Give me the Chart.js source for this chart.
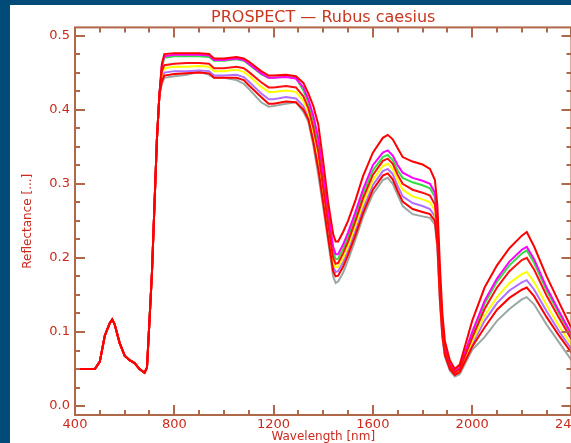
<!DOCTYPE html>
<html>
<head>
<meta charset="utf-8">
<script src="https://cdn.jsdelivr.net/npm/chart.js@4.4.0/dist/chart.umd.min.js"></script>
<style>
html, body { margin: 0; padding: 0; background: #004b78; overflow: hidden; width: 571px; height: 443px; }
#wrap { position: absolute; left: 10px; top: 5px; width: 580px; height: 445px; background: #ffffff; }
</style>
</head>
<body>
<div id="wrap"><canvas id="prospect_graph" width="580" height="445"></canvas></div>
<script>
// Visible part, the same for every leaf spectrum
var visWl = [400, 480, 500, 520, 540, 550, 560, 580, 600, 620, 640, 660, 680, 690, 700, 710, 720, 730, 740];
var visRefl = [0.05, 0.05, 0.06, 0.095, 0.112, 0.117, 0.11, 0.085, 0.068, 0.062, 0.058, 0.05, 0.045, 0.052, 0.115, 0.18, 0.27, 0.36, 0.42];

// NIR / SWIR part, one array per simulated spectrum
var nirWl = [750, 760, 800, 850, 900, 940, 960, 1000, 1050, 1080,
             1100, 1150, 1180, 1200, 1250, 1290, 1320, 1340, 1360, 1380,
             1400, 1420, 1440, 1450, 1460, 1480, 1500, 1530, 1560, 1600,
             1640, 1660, 1680, 1700, 1720, 1760, 1800, 1830, 1850, 1860,
             1870, 1880, 1890, 1910, 1930, 1950, 2000, 2050, 2100, 2150,
             2200, 2220, 2250, 2300, 2350, 2400];

var spectrumA = [0.462, 0.475, 0.476, 0.476, 0.476, 0.475, 0.469, 0.469, 0.471, 0.469,
                 0.465, 0.452, 0.446, 0.446, 0.447, 0.445, 0.436, 0.422, 0.405, 0.38,
                 0.33, 0.275, 0.232, 0.222, 0.222, 0.235, 0.25, 0.278, 0.31, 0.342,
                 0.362, 0.366, 0.36, 0.348, 0.336, 0.33, 0.326, 0.32, 0.305, 0.27,
                 0.19, 0.125, 0.088, 0.062, 0.05, 0.056, 0.115, 0.16, 0.19, 0.213,
                 0.23, 0.235, 0.215, 0.175, 0.14, 0.105];
var spectrumB = [0.46, 0.472, 0.474, 0.474, 0.474, 0.473, 0.467, 0.467, 0.469, 0.467,
                 0.462, 0.449, 0.443, 0.443, 0.444, 0.442, 0.43, 0.414, 0.392, 0.362,
                 0.312, 0.262, 0.215, 0.205, 0.205, 0.218, 0.234, 0.262, 0.292, 0.325,
                 0.342, 0.345, 0.338, 0.325, 0.315, 0.308, 0.304, 0.3, 0.288, 0.25,
                 0.17, 0.11, 0.08, 0.057, 0.047, 0.052, 0.1, 0.142, 0.172, 0.195,
                 0.211, 0.215, 0.198, 0.16, 0.128, 0.097];
var spectrumC = [0.458, 0.47, 0.472, 0.472, 0.472, 0.471, 0.466, 0.466, 0.468, 0.466,
                 0.461, 0.448, 0.443, 0.443, 0.445, 0.443, 0.426, 0.41, 0.386, 0.354,
                 0.304, 0.254, 0.208, 0.198, 0.199, 0.212, 0.228, 0.256, 0.286, 0.318,
                 0.336, 0.339, 0.332, 0.318, 0.308, 0.302, 0.298, 0.294, 0.282, 0.245,
                 0.165, 0.107, 0.077, 0.055, 0.046, 0.051, 0.097, 0.138, 0.168, 0.19,
                 0.206, 0.21, 0.193, 0.156, 0.125, 0.095];
var spectrumD = [0.452, 0.46, 0.462, 0.463, 0.463, 0.462, 0.456, 0.456, 0.458, 0.456,
                 0.451, 0.437, 0.43, 0.43, 0.432, 0.43, 0.418, 0.402, 0.376, 0.343,
                 0.294, 0.245, 0.2, 0.192, 0.193, 0.206, 0.222, 0.25, 0.28, 0.312,
                 0.331, 0.334, 0.327, 0.312, 0.3, 0.292, 0.288, 0.284, 0.272, 0.235,
                 0.158, 0.103, 0.075, 0.054, 0.045, 0.05, 0.092, 0.131, 0.16, 0.182,
                 0.197, 0.2, 0.184, 0.149, 0.119, 0.09];
var spectrumE = [0.448, 0.456, 0.458, 0.458, 0.459, 0.458, 0.452, 0.452, 0.454, 0.451,
                 0.446, 0.431, 0.424, 0.424, 0.426, 0.424, 0.412, 0.396, 0.369, 0.336,
                 0.287, 0.238, 0.194, 0.187, 0.188, 0.2, 0.216, 0.244, 0.273, 0.305,
                 0.324, 0.327, 0.32, 0.305, 0.292, 0.283, 0.279, 0.275, 0.264, 0.228,
                 0.152, 0.1, 0.073, 0.053, 0.044, 0.049, 0.087, 0.122, 0.147, 0.166,
                 0.178, 0.181, 0.167, 0.136, 0.108, 0.082];
var spectrumF = [0.442, 0.45, 0.452, 0.452, 0.453, 0.452, 0.446, 0.446, 0.447, 0.444,
                 0.438, 0.422, 0.414, 0.414, 0.417, 0.415, 0.405, 0.39, 0.362, 0.327,
                 0.279, 0.231, 0.188, 0.181, 0.182, 0.194, 0.21, 0.237, 0.266, 0.298,
                 0.317, 0.32, 0.313, 0.297, 0.283, 0.274, 0.27, 0.266, 0.256, 0.222,
                 0.148, 0.097, 0.071, 0.052, 0.043, 0.047, 0.083, 0.115, 0.139, 0.156,
                 0.167, 0.17, 0.157, 0.128, 0.101, 0.077];
var spectrumG = [0.438, 0.446, 0.448, 0.449, 0.45, 0.449, 0.443, 0.443, 0.443, 0.44,
                 0.433, 0.417, 0.408, 0.408, 0.411, 0.41, 0.4, 0.387, 0.357, 0.32,
                 0.274, 0.227, 0.182, 0.175, 0.176, 0.188, 0.204, 0.231, 0.26, 0.292,
                 0.311, 0.314, 0.306, 0.29, 0.276, 0.266, 0.262, 0.259, 0.25, 0.217,
                 0.145, 0.095, 0.069, 0.05, 0.042, 0.046, 0.08, 0.106, 0.13, 0.146,
                 0.157, 0.16, 0.148, 0.12, 0.095, 0.072];
var spectrumH = [0.435, 0.443, 0.445, 0.447, 0.451, 0.447, 0.443, 0.443, 0.44, 0.435,
                 0.428, 0.41, 0.404, 0.405, 0.408, 0.41, 0.397, 0.384, 0.352, 0.312,
                 0.268, 0.222, 0.175, 0.166, 0.168, 0.18, 0.197, 0.225, 0.255, 0.286,
                 0.305, 0.308, 0.3, 0.285, 0.27, 0.259, 0.256, 0.254, 0.245, 0.212,
                 0.14, 0.092, 0.067, 0.048, 0.04, 0.043, 0.076, 0.093, 0.115, 0.131,
                 0.144, 0.147, 0.137, 0.11, 0.086, 0.062];

var xTicks = [400, 800, 1200, 1600, 2000, 2400];
var yTicks = [0.0, 0.1, 0.2, 0.3, 0.4, 0.5];

var frameColor = '#b0684a'; // axis lines + tick marks
var labelColor = '#cc2a1e'; // tick labels and titles

// spectra drawn in this order, first one ends up on top
var spectra = [
    { values: spectrumA, color: '#ff0000' },
    { values: spectrumD, color: '#ff1010' },
    { values: spectrumG, color: '#ff0000' },
    { values: spectrumB, color: '#ff00ff' },
    { values: spectrumE, color: '#ffff00' },
    { values: spectrumC, color: '#33dd44' },
    { values: spectrumF, color: '#b070ff' },
    { values: spectrumH, color: '#9aa8a4' }
];

function toPoints(values) {
    var wl = visWl.concat(nirWl);
    var refl = visRefl.concat(values);
    return wl.map(function (w, i) { return { x: w, y: refl[i] }; });
}

// IDL style frame: box around the plot with ticks pointing inwards
var axisFrame = {
    id: 'axisFrame',
    afterDatasetsDraw: function (chart) {
        var ctx = chart.ctx;
        var a = chart.chartArea;
        var xs = chart.scales.x, ys = chart.scales.y;
        ctx.save();
        ctx.strokeStyle = frameColor;
        ctx.lineWidth = 2;
        ctx.strokeRect(a.left, a.top, a.right - a.left, a.bottom - a.top);
        ctx.beginPath();
        for (var w = xTicks[0]; w <= xTicks[xTicks.length - 1]; w += 100) {
            var px = Math.round(xs.getPixelForValue(w));
            var len = (w % 400 === 0) ? 10 : 5;
            ctx.moveTo(px, a.bottom); ctx.lineTo(px, a.bottom - len);
            ctx.moveTo(px, a.top); ctx.lineTo(px, a.top + len);
        }
        for (var i = 0; i <= 20; i++) {
            var py = Math.round(ys.getPixelForValue(i * 0.025));
            var ylen = (i % 4 === 0) ? 10 : 5;
            ctx.moveTo(a.left, py); ctx.lineTo(a.left + ylen, py);
            ctx.moveTo(a.right, py); ctx.lineTo(a.right - ylen, py);
        }
        ctx.stroke();
        ctx.restore();
    }
};

var canvas = document.getElementById('prospect_graph').getContext('2d');
var prospect_graph = new Chart(canvas, {
    type: 'line',
    data: {
        datasets: spectra.map(function (s) {
            return {
                data: toPoints(s.values),
                borderColor: s.color,
                borderWidth: 2,
                pointRadius: 0,
                tension: 0,
                fill: false
            };
        })
    },
    options: {
        responsive: false,
        animation: false,
        layout: { padding: { left: 0, right: 16, top: 0, bottom: 0 } },
        plugins: {
            legend: { display: false },
            tooltip: { enabled: false },
            title: {
                display: true,
                text: 'PROSPECT \u2014 Rubus caesius',
                fullSize: false,
                color: '#c8361f',
                font: { family: 'DejaVu Sans', size: 16, weight: 'normal', lineHeight: 1.15 },
                padding: { top: 4, bottom: 0 }
            }
        },
        scales: {
            x: {
                type: 'linear',
                min: 400,
                max: 2400,
                grid: { display: false, drawTicks: false },
                border: { display: false },
                afterBuildTicks: function (scale) {
                    scale.ticks = xTicks.map(function (v) { return { value: v }; });
                },
                afterFit: function (scale) { scale.height = 35; },
                ticks: {
                    color: labelColor,
                    font: { family: 'DejaVu Sans', size: 13 },
                    padding: 2,
                    maxRotation: 0,
                    autoSkip: false,
                    callback: function (v) { return String(v); }
                },
                title: {
                    display: true,
                    text: 'Wavelength [nm]',
                    color: labelColor,
                    font: { family: 'DejaVu Sans', size: 12 },
                    padding: { top: 0, bottom: 6 }
                }
            },
            y: {
                min: -0.012,
                max: 0.511,
                grid: { display: false, drawTicks: false },
                border: { display: false },
                afterBuildTicks: function (scale) {
                    scale.ticks = yTicks.map(function (v) { return { value: v }; });
                },
                afterFit: function (scale) { scale.width = 65; },
                ticks: {
                    color: labelColor,
                    font: { family: 'DejaVu Sans', size: 13 },
                    padding: 5,
                    callback: function (v) { return v.toFixed(1); }
                },
                title: {
                    display: true,
                    text: 'Reflectance [...]',
                    color: labelColor,
                    font: { family: 'DejaVu Sans', size: 12 },
                    padding: { top: 11, bottom: 0 }
                }
            }
        }
    },
    plugins: [axisFrame]
});
</script>
</body>
</html>
